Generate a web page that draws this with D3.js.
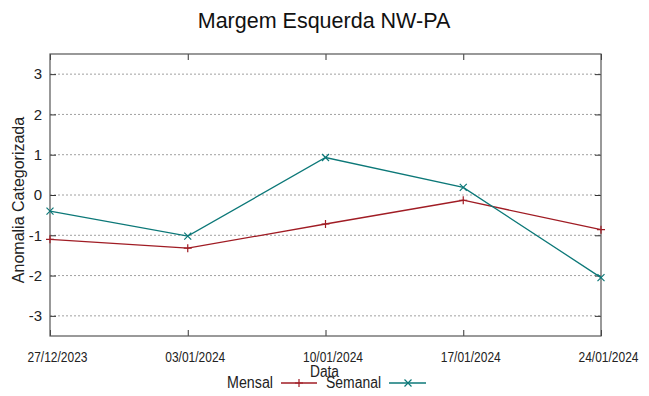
<!DOCTYPE html>
<html><head><meta charset="utf-8">
<script src="https://cdn.jsdelivr.net/npm/d3@7"></script>
<style>body{margin:0;background:#fff}svg{display:block}</style>
</head><body>
<script>
const dates = ["27/12/2023","03/01/2024","10/01/2024","17/01/2024","24/01/2024"];
const mensal = [-1.1, -1.32, -0.72, -0.13, -0.86];
const semanal = [-0.4, -1.02, 0.93, 0.19, -2.05];
const yTicks = [-3,-2,-1,0,1,2,3];
const title = "Margem Esquerda NW-PA";

const W=649,H=396;
const svg=d3.select("body").append("svg").attr("width",W).attr("height",H);
const parse=d3.timeParse("%d/%m/%Y");
const xd=dates.map(parse);
const x=d3.scaleTime().domain([xd[0],xd[xd.length-1]]).range([50,601]);
const y=d3.scaleLinear().domain([-3.5,3.5]).range([336,54]);
const sans="'Liberation Sans',Arial,sans-serif";

// grid
svg.append("g").selectAll("line").data(yTicks).join("line")
 .attr("x1",50).attr("x2",601).attr("y1",d=>y(d)).attr("y2",d=>y(d))
 .attr("stroke","#a0a0a0").attr("stroke-width",1).attr("stroke-dasharray","2,2");

// axes
const ya=svg.append("g").attr("transform","translate(50,0)")
 .call(d3.axisLeft(y).tickValues(yTicks).tickSize(-6).tickPadding(8).tickFormat(d=>String(d)));
ya.select(".domain").remove();
ya.selectAll("line").attr("stroke","#333");
ya.selectAll("text").attr("font-family",sans).attr("font-size",15).attr("fill","#222");
const ya2=svg.append("g").attr("transform","translate(601,0)")
 .call(d3.axisRight(y).tickValues(yTicks).tickSize(-6).tickFormat(""));
ya2.select(".domain").remove(); ya2.selectAll("line").attr("stroke","#333");

const xa=svg.append("g").attr("transform","translate(0,336)")
 .call(d3.axisBottom(x).tickValues(xd).tickSize(-6).tickFormat(d3.timeFormat("%d/%m/%Y")));
xa.select(".domain").remove(); xa.selectAll("line").attr("stroke","#333");
xa.selectAll("text").attr("font-family",sans).attr("font-size",14).attr("fill","#222")
 .attr("x",7).attr("y",26).attr("dy",0)
 .attr("textLength",60).attr("lengthAdjust","spacingAndGlyphs");
const xa2=svg.append("g").attr("transform","translate(0,54)")
 .call(d3.axisTop(x).tickValues(xd).tickSize(-6).tickFormat(""));
xa2.select(".domain").remove(); xa2.selectAll("line").attr("stroke","#333");

// border
svg.append("rect").attr("x",50).attr("y",54).attr("width",551).attr("height",282)
 .attr("fill","none").attr("stroke","#555").attr("stroke-width",1.2);

// lines
const cM="#a01c24", cS="#0c7878";
const line=d3.line().x((d,i)=>x(xd[i])).y(d=>y(d));
svg.append("path").datum(mensal).attr("d",line).attr("fill","none").attr("stroke",cM).attr("stroke-width",1.3);
svg.append("path").datum(semanal).attr("d",line).attr("fill","none").attr("stroke",cS).attr("stroke-width",1.3);

function plus(g,cx,cy,c){g.append("path").attr("d",`M${cx-4},${cy}H${cx+4}M${cx},${cy-4}V${cy+4}`).attr("stroke",c).attr("stroke-width",1.2);}
function cross(g,cx,cy,c){g.append("path").attr("d",`M${cx-3.5},${cy-3.5}L${cx+3.5},${cy+3.5}M${cx-3.5},${cy+3.5}L${cx+3.5},${cy-3.5}`).attr("stroke",c).attr("stroke-width",1.2);}
const mk=svg.append("g");
mensal.forEach((v,i)=>plus(mk,x(xd[i]),y(v),cM));
semanal.forEach((v,i)=>cross(mk,x(xd[i]),y(v),cS));

// title
svg.append("text").attr("x",324).attr("y",28).attr("text-anchor","middle")
 .attr("font-family",sans).attr("font-size",21.5).attr("fill","#111").text(title);
// y label
svg.append("text").attr("transform","translate(24,200) rotate(-90)").attr("text-anchor","middle")
 .attr("font-family",sans).attr("font-size",16).attr("fill","#222").text("Anomalia Categorizada");
// x label
svg.append("text").attr("x",310).attr("y",377).attr("font-family",sans).attr("font-size",16).attr("fill","#222")
 .attr("textLength",29).attr("lengthAdjust","spacingAndGlyphs").text("Data");
// legend
svg.append("text").attr("x",227).attr("y",388)
 .attr("font-family",sans).attr("font-size",16).attr("fill","#222")
 .attr("textLength",46).attr("lengthAdjust","spacingAndGlyphs").text("Mensal");
svg.append("line").attr("x1",281).attr("x2",317).attr("y1",383).attr("y2",383).attr("stroke",cM).attr("stroke-width",1.3);
plus(svg,299,383,cM);
svg.append("text").attr("x",326).attr("y",388)
 .attr("font-family",sans).attr("font-size",16).attr("fill","#222")
 .attr("textLength",55).attr("lengthAdjust","spacingAndGlyphs").text("Semanal");
svg.append("line").attr("x1",389).attr("x2",426).attr("y1",383).attr("y2",383).attr("stroke",cS).attr("stroke-width",1.3);
cross(svg,408,383,cS);
</script>
</body></html>
